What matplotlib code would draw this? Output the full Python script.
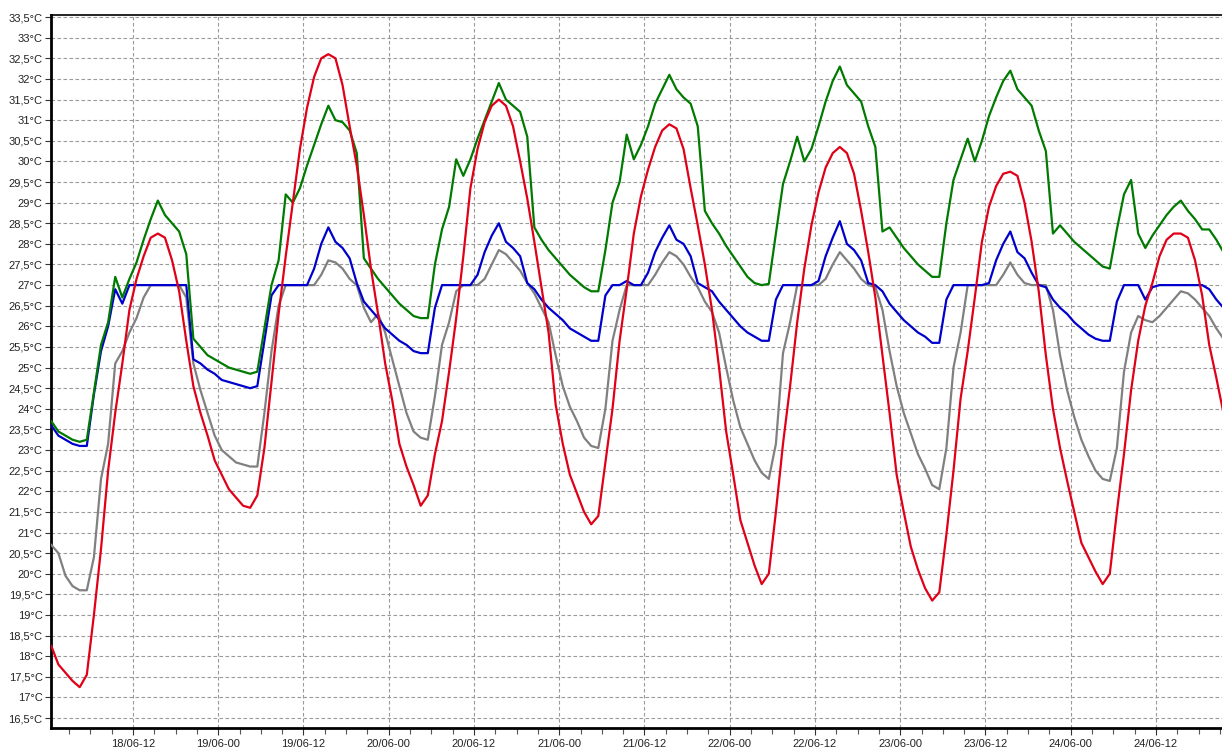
import matplotlib
matplotlib.use("Agg")
import matplotlib.pyplot as plt
import numpy as np
from matplotlib.ticker import MultipleLocator, FixedLocator, FuncFormatter

plt.rcParams['font.family'] = ['Liberation Sans', 'DejaVu Sans']

# hourly readings, first reading at 18/06 00:30 (hours since 18/06 00:00)
first_hour = 0.5

red = [
    18.25, 17.8, 17.6, 17.4, 17.25, 17.55, 19.0, 20.6, 22.5, 23.9,
    25.1, 26.4, 27.15, 27.7, 28.15, 28.25, 28.15, 27.6, 26.85, 25.65,
    24.55, 23.9, 23.35, 22.75, 22.4, 22.05, 21.85, 21.65, 21.6, 21.9,
    23.05, 24.65, 26.3, 27.7, 29.0, 30.3, 31.3, 32.05, 32.5, 32.6,
    32.5, 31.85, 30.85, 29.9, 28.7, 27.4, 26.3, 25.1, 24.2, 23.15,
    22.6, 22.15, 21.65, 21.9, 22.9, 23.7, 24.9, 26.2, 27.7, 29.35,
    30.3, 30.95, 31.35, 31.5, 31.35, 30.85, 30.0, 29.1, 28.05, 26.95,
    25.85, 24.1, 23.15, 22.4, 21.95, 21.5, 21.2, 21.4, 22.7, 24.0,
    25.65, 26.9, 28.25, 29.15, 29.8, 30.35, 30.75, 30.9, 30.8, 30.3,
    29.35, 28.45, 27.5, 26.4, 25.0, 23.45, 22.4, 21.3, 20.75, 20.2,
    19.75, 20.0, 21.5, 23.15, 24.55, 26.1, 27.4, 28.45, 29.25, 29.85,
    30.2, 30.35, 30.2, 29.7, 28.8, 27.8, 26.7, 25.3, 23.9, 22.4,
    21.5, 20.65, 20.1, 19.65, 19.35, 19.55, 20.95, 22.5, 24.25, 25.4,
    26.7, 28.05, 28.9, 29.4, 29.7, 29.75, 29.65, 29.0, 28.05, 26.85,
    25.3, 24.0, 23.05, 22.25, 21.5, 20.75, 20.4, 20.05, 19.75, 20.0,
    21.5, 22.9, 24.45, 25.65, 26.5, 27.05, 27.7, 28.1, 28.25, 28.25,
    28.15, 27.6, 26.75, 25.55, 24.75, 23.9,
]

green = [
    23.7, 23.45, 23.35, 23.25, 23.2, 23.25, 24.4, 25.55, 26.1, 27.2,
    26.7, 27.15, 27.55, 28.1, 28.6, 29.05, 28.7, 28.5, 28.3, 27.75,
    25.7, 25.5, 25.3, 25.2, 25.1, 25.0, 24.95, 24.9, 24.85, 24.9,
    25.95, 27.0, 27.6, 29.2, 29.0, 29.35, 29.9, 30.4, 30.9, 31.35,
    31.0, 30.95, 30.75, 30.2, 27.65, 27.4, 27.15, 26.95, 26.75, 26.55,
    26.4, 26.25, 26.2, 26.2, 27.5, 28.35, 28.9, 30.05, 29.65, 30.05,
    30.55, 31.0, 31.45, 31.9, 31.5, 31.35, 31.2, 30.6, 28.4, 28.1,
    27.85, 27.65, 27.45, 27.25, 27.1, 26.95, 26.85, 26.85, 27.85, 29.0,
    29.5, 30.65, 30.05, 30.4, 30.85, 31.4, 31.75, 32.1, 31.75, 31.55,
    31.4, 30.85, 28.8, 28.5, 28.25, 27.95, 27.7, 27.45, 27.2, 27.05,
    27.0, 27.03, 28.25, 29.45, 30.0, 30.6, 30.0, 30.3, 30.85, 31.45,
    31.95, 32.3, 31.85, 31.65, 31.45, 30.85, 30.35, 28.3, 28.4, 28.15,
    27.9, 27.7, 27.5, 27.35, 27.2, 27.2, 28.5, 29.55, 30.05, 30.55,
    30.0, 30.5, 31.1, 31.55, 31.95, 32.2, 31.75, 31.55, 31.35, 30.75,
    30.25, 28.25, 28.45, 28.25, 28.05, 27.9, 27.75, 27.6, 27.45, 27.4,
    28.35, 29.2, 29.55, 28.25, 27.9, 28.2, 28.45, 28.7, 28.9, 29.05,
    28.8, 28.6, 28.35, 28.35, 28.1, 27.8,
]

blue = [
    23.6, 23.35, 23.25, 23.15, 23.1, 23.1, 24.35, 25.4, 26.0, 26.9,
    26.55, 27.0, 27.0, 27.0, 27.0, 27.0, 27.0, 27.0, 27.0, 27.0,
    25.2, 25.1, 24.95, 24.85, 24.7, 24.65, 24.6, 24.55, 24.5, 24.55,
    25.65, 26.75, 27.0, 27.0, 27.0, 27.0, 27.0, 27.4, 28.0, 28.4,
    28.05, 27.9, 27.65, 27.05, 26.6, 26.4, 26.2, 25.95, 25.8, 25.65,
    25.55, 25.4, 25.35, 25.35, 26.45, 27.0, 27.0, 27.0, 27.0, 27.0,
    27.25, 27.8, 28.2, 28.5, 28.05, 27.9, 27.7, 27.05, 26.9, 26.65,
    26.45, 26.3, 26.15, 25.95, 25.85, 25.75, 25.65, 25.65, 26.75, 27.0,
    27.0, 27.1, 27.0, 27.0, 27.3, 27.8, 28.15, 28.45, 28.1, 28.0,
    27.7, 27.05, 26.95, 26.85, 26.6, 26.4, 26.2, 26.0, 25.85, 25.75,
    25.65, 25.65, 26.65, 27.0, 27.0, 27.0, 27.0, 27.0, 27.1, 27.7,
    28.15, 28.55, 28.0, 27.85, 27.6, 27.05, 27.0, 26.85, 26.55, 26.35,
    26.15, 26.0, 25.85, 25.75, 25.6, 25.6, 26.65, 27.0, 27.0, 27.0,
    27.0, 27.0, 27.05, 27.6, 28.0, 28.3, 27.8, 27.65, 27.3, 27.0,
    26.95, 26.65, 26.45, 26.3, 26.1, 25.95, 25.8, 25.7, 25.65, 25.65,
    26.6, 27.0, 27.0, 27.0, 26.65, 26.95, 27.0, 27.0, 27.0, 27.0,
    27.0, 27.0, 27.0, 26.9, 26.65, 26.45,
]

gray = [
    20.7, 20.5, 19.95, 19.7, 19.6, 19.6, 20.4, 22.3, 23.15, 25.1,
    25.4, 25.85, 26.2, 26.7, 27.0, 27.0, 27.0, 27.0, 27.0, 26.7,
    25.1, 24.45, 23.9, 23.35, 23.0, 22.85, 22.7, 22.65, 22.6, 22.6,
    23.9, 25.4, 26.5, 27.0, 27.0, 27.0, 27.0, 27.0, 27.25, 27.6,
    27.55, 27.4, 27.15, 27.0, 26.45, 26.1, 26.3, 25.85, 25.2, 24.55,
    23.9, 23.45, 23.3, 23.25, 24.3, 25.55, 26.1, 26.85, 27.0, 27.0,
    27.0, 27.15, 27.5, 27.85, 27.75, 27.55, 27.35, 27.05, 26.8, 26.45,
    26.1, 25.3, 24.55, 24.05, 23.7, 23.3, 23.1, 23.05, 24.0, 25.65,
    26.4, 27.0, 27.0, 27.0, 27.0, 27.25, 27.55, 27.8, 27.7, 27.5,
    27.2, 26.95, 26.6, 26.35, 25.85, 25.0, 24.2, 23.55, 23.15, 22.75,
    22.45, 22.3, 23.15, 25.35, 26.1, 27.0, 27.0, 27.0, 27.0, 27.15,
    27.5, 27.8, 27.6, 27.4, 27.15, 27.0, 26.95, 26.4, 25.4, 24.55,
    23.9, 23.4, 22.9, 22.55, 22.15, 22.05, 23.05, 25.0, 25.85, 27.0,
    27.0, 27.0, 27.0, 27.0, 27.25, 27.55, 27.25, 27.05, 27.0, 27.0,
    27.0, 26.4, 25.3, 24.45, 23.8, 23.25, 22.85, 22.5, 22.3, 22.25,
    23.05, 24.9, 25.85, 26.25, 26.15, 26.1, 26.25, 26.45, 26.65, 26.85,
    26.8, 26.65, 26.45, 26.25, 25.95, 25.7,
]

tick_hours = [12, 24, 36, 48, 60, 72, 84, 96, 108, 120, 132, 144, 156]
tick_labels = ["18/06-12", "19/06-00", "19/06-12", "20/06-00", "20/06-12",
               "21/06-00", "21/06-12", "22/06-00", "22/06-12", "23/06-00",
               "23/06-12", "24/06-00", "24/06-12"]

W, H = 1222, 749
fig = plt.figure(figsize=(W / 100, H / 100), dpi=100)
left, right, top, bottom = 51, 1224, 15, 728
ax = fig.add_axes([left / W, (H - bottom) / H, (right - left) / W, (bottom - top) / H])

hours = first_hour + np.arange(len(red))

lw = 1.6
ax.plot(hours, gray, color='#808080', lw=lw, zorder=3)
ax.plot(hours, blue, color='#0000cc', lw=lw, zorder=4)
ax.plot(hours, green, color='#007a00', lw=lw, zorder=5)
ax.plot(hours, red, color='#e00018', lw=lw, zorder=6)

ax.set_xlim(0.46, 0.46 + (right - left) / 7.104)
ax.set_ylim(16.26, 33.55)

ax.yaxis.set_major_locator(MultipleLocator(0.5))
ax.yaxis.set_major_formatter(FuncFormatter(
    lambda v, p: (f"{v:g}".replace('.', ',')) + "°C"))
ax.xaxis.set_major_locator(FixedLocator(tick_hours))
ax.set_xticklabels(tick_labels)
ax.xaxis.set_minor_locator(MultipleLocator(3))

ax.grid(True, which='major', color='#999999', linestyle=(0, (3.2, 2.2)), linewidth=0.8, zorder=1)
ax.set_axisbelow(True)

ax.tick_params(axis='y', which='major', direction='out', length=4, width=0.8,
               labelsize=8, pad=2, colors='#333333', labelcolor='#222222')
ax.tick_params(axis='x', which='major', direction='out', length=5, width=0.8,
               labelsize=8, pad=3, colors='#333333', labelcolor='#222222')
ax.tick_params(axis='x', which='minor', direction='out', length=4, width=0.8, colors='#555555')

for s in ['left', 'bottom']:
    ax.spines[s].set_linewidth(2)
    ax.spines[s].set_color('black')
ax.spines['top'].set_linewidth(1.2)
ax.spines['top'].set_color('black')
ax.spines['right'].set_visible(False)

fig.savefig('out.png', dpi=100)
